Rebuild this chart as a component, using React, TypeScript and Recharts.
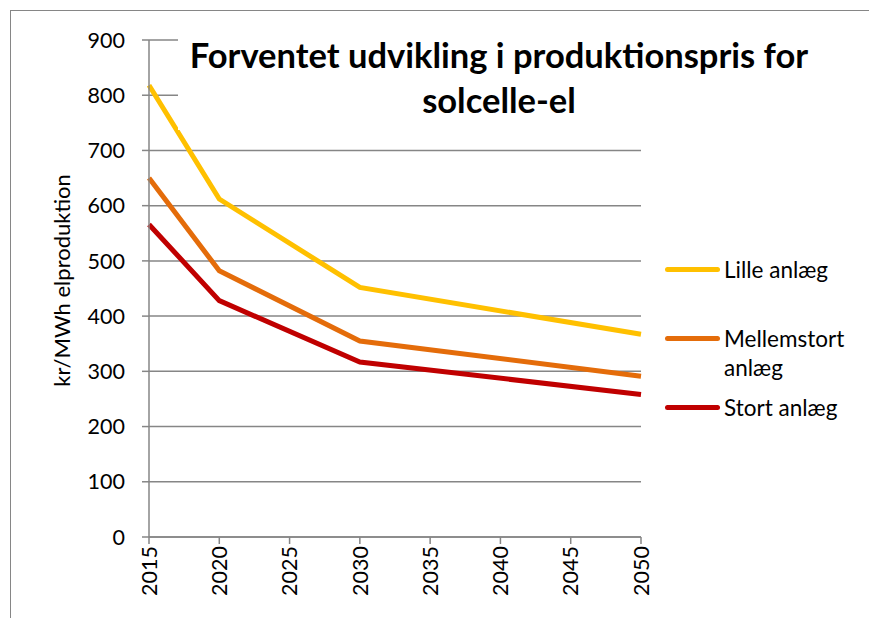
import React from 'react';
import { LineChart, Line, XAxis, YAxis, CartesianGrid } from 'recharts';

const years = [2015, 2020, 2030, 2050];
const lille = [818, 612, 452, 367];
const mellem = [650, 482, 355, 291];
const stort = [566, 428, 317, 258];
const xTicks = [2015, 2020, 2025, 2030, 2035, 2040, 2045, 2050];
const yTicks = [0, 100, 200, 300, 400, 500, 600, 700, 800, 900];
const seriesNames = ['Lille anlæg', 'Mellemstort anlæg', 'Stort anlæg'];
const seriesKeys = ['lille', 'mellem', 'stort'];
const seriesColors = ['#FFC000', '#E46C0A', '#C00000'];
const legendLines = [['Lille anlæg'], ['Mellemstort', 'anlæg'], ['Stort anlæg']];

const data = years.map((y, i) => ({ year: y, lille: lille[i], mellem: mellem[i], stort: stort[i] }));

const FONT = 'Lato, "Open Sans", sans-serif';
const GREY = '#868686';

const XTick = (props: any) => {
  const { x, y, payload } = props;
  return (
    <g transform={`translate(${x},${y})`}>
      <text transform="rotate(-90)" textAnchor="end" dy="0.36em" fontSize={21.5} fontFamily={FONT} fill="#000">
        {payload.value}
      </text>
    </g>
  );
};

const YLabel = (props: any) => {
  const { viewBox } = props;
  const cx = 62;
  const cy = viewBox.y + viewBox.height / 2 - 8;
  return (
    <text transform={`translate(${cx},${cy}) rotate(-90)`} textAnchor="middle" dy="0.36em" fontSize={22} fontFamily={FONT} fill="#000">
      kr/MWh elproduktion
    </text>
  );
};

const LegendBox = () => (
  <div style={{ position: 'absolute', left: 665, top: 255, width: 200, fontFamily: FONT, fontSize: 22.5, color: '#000' }}>
    {seriesNames.map((n, i) => (
      <div key={n} style={{ height: 69, display: 'flex', alignItems: 'flex-start' }}>
        <div style={{ width: 55, height: 29, display: 'flex', alignItems: 'center', marginRight: 4 }}>
          <div style={{ width: 55, height: 5, borderRadius: 3, background: seriesColors[i] }} />
        </div>
        <div style={{ lineHeight: '29px' }}>
          {legendLines[i].map((l) => (
            <div key={l}>{l}</div>
          ))}
        </div>
      </div>
    ))}
  </div>
);

export default function App() {
  return (
    <div style={{ position: 'absolute', left: 0, top: 0, width: 869, height: 618, background: '#fff', overflow: 'hidden' }}>
      <div style={{ position: 'absolute', left: 10, top: 10, width: 1000, height: 1000, border: `1.5px solid ${GREY}`, boxSizing: 'border-box' }} />
      <LineChart width={869} height={618} data={data} margin={{ top: 40, right: 228, bottom: 0, left: 49 }}>
        <CartesianGrid vertical={false} stroke={GREY} strokeWidth={1.5} />
        <XAxis
          dataKey="year"
          type="number"
          domain={[2015, 2050]}
          ticks={xTicks}
          interval={0}
          height={81}
          tickSize={7}
          tickMargin={2}
          stroke={GREY}
          strokeWidth={1.5}
          tick={<XTick />}
        />
        <YAxis
          domain={[0, 900]}
          ticks={yTicks}
          interval={0}
          width={100}
          tickSize={7}
          tickMargin={17}
          stroke={GREY}
          strokeWidth={1.5}
          tick={{ fontSize: 21.5, fontFamily: FONT, fill: '#000' }}
          label={<YLabel />}
        />
        {seriesKeys.map((k, i) => (
          <Line key={k} type="linear" dataKey={k} name={seriesNames[i]} stroke={seriesColors[i]} strokeWidth={5} dot={false} isAnimationActive={false} />
        ))}
      </LineChart>
      <LegendBox />
      <div
        style={{
          position: 'absolute',
          left: 178,
          top: 30,
          width: 642,
          height: 100,
          background: '#fff',
          fontFamily: FONT,
          fontWeight: 700,
          fontSize: 34.5,
          lineHeight: '45px',
          textAlign: 'center',
          paddingTop: 2,
          boxSizing: 'border-box',
          color: '#000',
        }}
      >
        <div>Forventet udvikling i produktionspris for</div>
        <div>solcelle-el</div>
      </div>
    </div>
  );
}
